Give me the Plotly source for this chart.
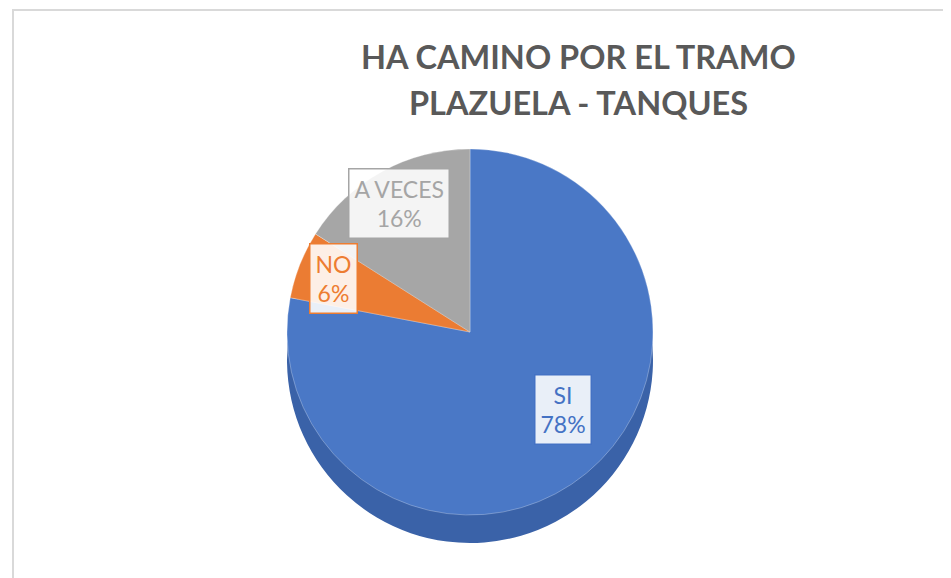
import math
import plotly.graph_objects as go

# ---- data ----
categories = ["SI", "NO", "A VECES"]
values = [78, 6, 16]
slice_colors = ["#4A78C6", "#EB7C33", "#A6A6A6"]
side_colors = ["#3A62A8", "#C9662A", "#8A8A8A"]
label_colors = ["#4472C4", "#ED7D31", "#A5A5A5"]
title_lines = ["HA CAMINO POR EL TRAMO", "PLAZUELA - TANQUES"]

W, H = 951, 578
OFF = 8  # page body margin
cx, cy, R, depth = 470 - OFF, 332 - OFF, 183, 28

def dom(cx_, cy_):
    return dict(x=[(cx_ - R) / W, (cx_ + R) / W],
                y=[1 - (cy_ + R) / H, 1 - (cy_ - R) / H])

fig = go.Figure()
# side (depth) layer
fig.add_trace(go.Pie(
    labels=categories, values=values, sort=False, direction="clockwise", rotation=0,
    marker=dict(colors=side_colors, line=dict(color="#3A62A8", width=0)),
    textinfo="none", hoverinfo="skip", showlegend=False,
    domain=dom(cx, cy + depth),
))
# top face
fig.add_trace(go.Pie(
    labels=categories, values=values, sort=False, direction="clockwise", rotation=0,
    marker=dict(colors=slice_colors, line=dict(color="rgba(255,255,255,0.35)", width=0.8)),
    textinfo="none", showlegend=False,
    domain=dom(cx, cy),
))

# data labels placed at slice mid-angles
total = sum(values)
cum = 0
annotations = []
frac = 0.8
for cat, v, col in zip(categories, values, label_colors):
    mid = (cum + v / 2) / total * 2 * math.pi
    cum += v
    px = cx + frac * R * math.sin(mid)
    py = cy - frac * R * math.cos(mid)
    annotations.append(dict(
        x=px / W, y=1 - py / H, xref="paper", yref="paper",
        text=f"{cat}<br>{round(v / total * 100)}%", showarrow=False,
        font=dict(family="Lato, Carlito, sans-serif", size=23, color=col),
        bgcolor="rgba(255,255,255,0.88)", bordercolor=col, borderwidth=1.5, borderpad=5,
        align="center",
    ))

# title lines
for i, line in enumerate(title_lines):
    annotations.append(dict(
        x=(578 - OFF) / W, y=1 - (57 - OFF + 46 * i) / H, xref="paper", yref="paper",
        text=f"<b>{line}</b>", showarrow=False, xanchor="center", yanchor="middle",
        font=dict(family="Lato, Carlito, sans-serif", size=32.5, color="#595959"),
    ))

fig.update_layout(
    width=W, height=H,
    margin=dict(l=0, r=0, t=0, b=0),
    paper_bgcolor="white", plot_bgcolor="white",
    annotations=annotations,
    shapes=[dict(type="rect", xref="paper", yref="paper",
                 x0=(13 - OFF) / W, x1=1.2, y0=-0.2, y1=1 - (10 - OFF) / H,
                 line=dict(color="#D9D9D9", width=2), fillcolor="rgba(0,0,0,0)", layer="below")],
)

fig.write_html("out.html")
